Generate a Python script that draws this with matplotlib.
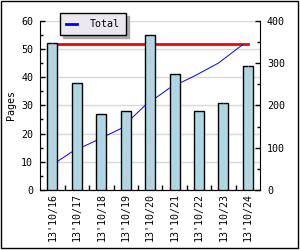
import numpy as np
import matplotlib
matplotlib.use("Agg")
import matplotlib.pyplot as plt
from matplotlib.patches import Rectangle

dates = ["13'10/16", "13'10/17", "13'10/18", "13'10/19", "13'10/20",
         "13'10/21", "13'10/22", "13'10/23", "13'10/24"]
pages = [52, 38, 27, 28, 55, 41, 28, 31, 44]
total = np.cumsum(pages)

plt.rcParams['font.family'] = ['DejaVu Sans Mono']
plt.rcParams['font.size'] = 7.2

fig = plt.figure(figsize=(3, 2.5), dpi=100, facecolor='white')
rect = [0.134, 0.24, 0.733, 0.677]
# right-scale axes first (drawn below), bar axes on top
ax2 = fig.add_axes(rect)
ax = fig.add_axes(rect, sharex=ax2)
ax.patch.set_visible(False)
ax2.yaxis.tick_right()

x = np.arange(len(pages))
w = 0.41
ax.bar(x, pages, width=w, color='#add8e6', edgecolor='black', linewidth=1, zorder=3)
ax.vlines(x, 0, pages, colors='#e8b4b4', linestyles=(0, (1, 2)), linewidth=0.8, zorder=4)

ax2.plot([x[0], x[-1]], [total[-1], total[-1]], color='red', lw=2)
ln, = ax2.plot(x - w / 2, total, color='blue', lw=0.7)

ax.set_xlim(-0.5, len(pages) - 0.5)
ax.set_ylim(0, 60)
ax2.set_ylim(0, 400)
ax.set_yticks(np.arange(0, 61, 10))
ax.set_yticks(np.arange(5, 60, 10), minor=True)
ax2.set_yticks(np.arange(0, 401, 100))
ax2.set_yticks(np.arange(50, 400, 100), minor=True)
ax.set_xticks(x)
ax.set_xticklabels(dates, rotation=90)
ax.set_xticks(x[:-1] + 0.5, minor=True)
ax2.tick_params(axis='x', which='both', bottom=False, labelbottom=False)

ax.tick_params(axis='x', which='major', length=0, pad=2)
ax.tick_params(axis='x', which='minor', direction='in', length=3.6, width=1)
ax.tick_params(axis='y', which='major', direction='in', length=3.4, width=1, pad=5)
ax.tick_params(axis='y', which='minor', direction='in', length=2.2, width=1)
ax2.tick_params(axis='y', which='major', direction='in', length=3.4, width=1, pad=5)
ax2.tick_params(axis='y', which='minor', direction='in', length=2.2, width=1)

# grid lines behind everything
for yv in ax.get_yticks()[1:]:
    ax2.axhline(yv * 400 / 60, color='#d8d8d8', lw=1, zorder=0)

for a in (ax, ax2):
    a.spines['top'].set_visible(False)
ax.spines['right'].set_visible(False)
ax2.spines['left'].set_visible(False)
ax.set_ylabel('Pages', labelpad=4)

leg = ax.legend([ln], ['Total'], loc='upper left', bbox_to_anchor=(0.2, 0.948),
                bbox_transform=fig.transFigure, borderaxespad=0, fancybox=False,
                framealpha=1, facecolor='#ebe9ef', edgecolor='black',
                handlelength=1.1, handletextpad=1.3, borderpad=0.6,
                shadow={'color': '#aaaaaa', 'alpha': 1})
leg.get_lines()[0].set_linewidth(2)

fig.patches.append(Rectangle((0.0017, 0.01), 0.991, 0.988, transform=fig.transFigure,
                             fill=False, edgecolor='black', lw=1))

fig.savefig('out.png', dpi=100)
